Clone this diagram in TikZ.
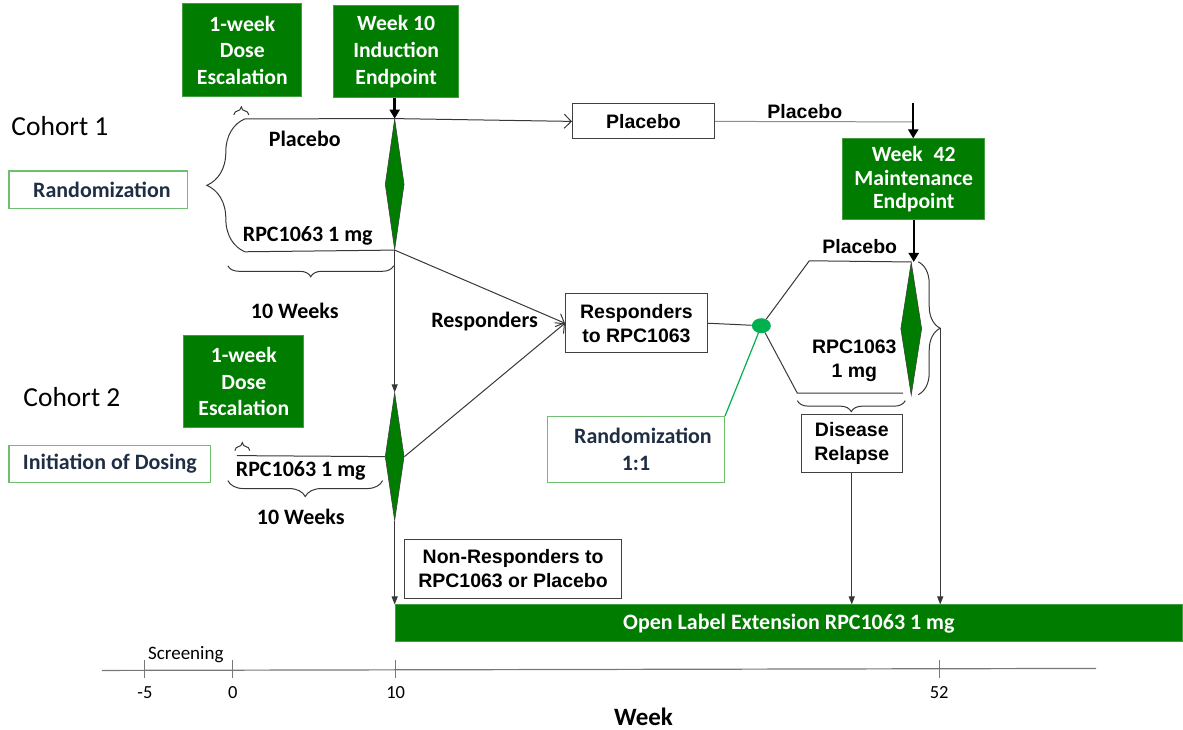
\documentclass[tikz,border=0pt]{standalone}
\usepackage{fontspec}
\setmainfont{Carlito}
\newfontfamily\arialfam{Liberation Sans}
\usetikzlibrary{arrows.meta,decorations.pathreplacing,shapes.geometric}
\definecolor{ptgreen}{RGB}{0,125,0}
\definecolor{boxgreen}{RGB}{112,190,112}
\definecolor{dotgreen}{RGB}{0,176,80}
\definecolor{navytext}{RGB}{32,46,68}
\definecolor{linegray}{RGB}{55,55,55}
\definecolor{axisgray}{RGB}{120,120,120}
\begin{document}
\begin{tikzpicture}[x=1pt,y=-1pt,
  greenbox/.style={rectangle,fill=ptgreen,draw=ptgreen!75!white,line width=1pt,
                   text=white,align=center,inner sep=0pt,
                   font=\bfseries\fontsize{21.7}{26.5}\selectfont},
  outlinebox/.style={rectangle,draw=boxgreen,line width=1.3pt,text=navytext,
                     align=center,inner sep=0pt,
                     font=\bfseries\fontsize{22}{27}\selectfont},
  plainbox/.style={rectangle,draw=black!75,line width=1.1pt,align=center,
                   inner sep=0pt,font=\arialfam\bfseries\fontsize{19.5}{24}\selectfont},
  visitdiamond/.style={diamond,fill=ptgreen,draw=black!75,line width=0.6pt,
                       inner sep=0pt,minimum width=19pt,minimum height=#1},
  armlabel/.style={inner sep=0pt,font=\bfseries\fontsize{22}{26}\selectfont},
  arlabel/.style={inner sep=0pt,align=center,
                  font=\arialfam\bfseries\fontsize{19.5}{24}\selectfont},
  cohortlabel/.style={inner sep=0pt,font=\fontsize{27.5}{32}\selectfont},
  ticklabel/.style={inner sep=0pt,font=\fontsize{18.5}{22}\selectfont},
  flow/.style={draw=linegray,line width=1pt},
  openarrow/.style={-{Straight Barb[length=7pt,width=14pt]}},
  tiparrow/.style={-{Triangle[length=8pt,width=6pt]}},
  thickarrow/.style={draw=black,line width=2.4pt,-{Triangle[length=9pt,width=10pt]}},
  bracedeco/.style={draw=linegray,line width=1pt,decorate,
                    decoration={brace,amplitude=#1}}]
\node[greenbox,minimum width=119pt,minimum height=93pt] (dose1) at (242.5,50.5)
  {1-week\\Dose\\Escalation};
\node[greenbox,minimum width=125pt,minimum height=92pt,
      font=\bfseries\fontsize{21.7}{27}\selectfont] (w10) at (396.5,52)
  {Week 10\\Induction\\Endpoint};
\node[greenbox,minimum width=142pt,minimum height=81pt,
      font=\bfseries\fontsize{21.7}{23.5}\selectfont] (w42) at (914.5,179.5)
  {Week\enspace42\\Maintenance\\Endpoint};
\node[greenbox,minimum width=120pt,minimum height=92pt] (dose2) at (244,382)
  {1-week\\Dose\\Escalation};
\node[greenbox,anchor=west,minimum width=788pt,minimum height=37pt,
      font=\bfseries\fontsize{22}{26}\selectfont] (ole) at (395,624)
  {Open Label Extension RPC1063 1 mg};
\node[cohortlabel] (coh1) at (60,126) {Cohort 1};
\node[cohortlabel] (coh2) at (72,397) {Cohort 2};
\node[outlinebox,minimum width=179pt,minimum height=38pt] (rand1) at (98.5,190)
  {\hspace*{7pt}Randomization};
\node[outlinebox,minimum width=202pt,minimum height=37pt] (init) at (110,464.5)
  {Initiation of Dosing};
\node[outlinebox,minimum width=177pt,minimum height=66pt] (rand2) at (636.5,450)
  {\hspace*{14pt}Randomization\\1:1};
\node[plainbox,minimum width=142pt,minimum height=35pt] (pbox) at (644,121.5) {Placebo};
\node[plainbox,minimum width=142pt,minimum height=59pt] (resp) at (637,323.5)
  {Responders\\to RPC1063};
\node[plainbox,minimum width=101pt,minimum height=58pt] (dis) at (852.5,444)
  {Disease\\Relapse};
\node[plainbox,minimum width=217pt,minimum height=59pt] (nonresp) at (513.5,569.5)
  {Non-Responders to\\RPC1063 or Placebo};
\node[visitdiamond=131pt] (dia1) at (395,184.5) {};
\node[visitdiamond=128pt] (dia2) at (395,457) {};
\node[visitdiamond=133pt,minimum width=21pt] (dia3) at (912,329) {};
\node[ellipse,fill=dotgreen,inner sep=0pt,minimum width=19pt,minimum height=15pt]
  (dot) at (762,326) {};
\node[armlabel] (plac1) at (305,139) {Placebo};
\node[armlabel] (rpc1) at (308,236.5) {RPC1063 1 mg};
\node[armlabel] (wk1) at (295,311) {10 Weeks};
\node[armlabel] (rpc2) at (301,471.5) {RPC1063 1 mg};
\node[armlabel] (wk2) at (301,517) {10 Weeks};
\node[armlabel] (resplbl) at (485,322) {Responders};
\node[arlabel] (plac2) at (805.5,112) {Placebo};
\node[arlabel] (plac3) at (860.5,246.5) {Placebo};
\node[arlabel] (rpc3) at (855,361) {RPC1063\\1 mg};
\coordinate (c1top) at (245,119);
\coordinate (c1bot) at (245,252);
\coordinate (c2start) at (237,456);
\coordinate (p42) at (914,122);
\coordinate (top42) at (914,103);
\coordinate (upk) at (810,261);
\coordinate (lowk) at (798,393.5);
\coordinate (lowend) at (904,393.5);
\coordinate (brtip) at (941,328.5);
\draw[bracedeco=38] (c1bot) -- (c1top);
\draw[bracedeco=8] (234,115) -- (249,115);
\draw[bracedeco=8] (235,451) -- (250,451);
\draw[bracedeco=11] (394,266) -- (228,266);
\draw[bracedeco=16] (383,481) -- (228,481);
\draw[bracedeco=22] (919,262) -- (919,395);
\draw[bracedeco=11] (906,401) -- (798,401);
\draw[flow] (c1top) -- (dia1.north);
\draw[flow] (c1bot) -- (dia1.south);
\draw[flow] (c2start) -- (dia2.west);
\draw[flow,openarrow] (dia1.north) -- (pbox.west);
\draw[draw=black!45,line width=1pt] (pbox.east) -- (p42);
\draw[thickarrow] (dia1.north |- w10.south) -- (dia1.north);
\draw[thickarrow] (top42) -- (top42 |- w42.north);
\draw[thickarrow] (w42.south) -- (w42.south |- dia3.north);
\draw[flow,openarrow] (dia1.south) -- (resp.west);
\draw[flow,openarrow] (dia2.east) -- (resp.west);
\draw[flow,tiparrow] (dia1.south) -- (dia2.north);
\draw[flow,tiparrow] (dia2.south) -- (dia2.south |- ole.north);
\draw[flow] (resp.east) -- (dot);
\draw[flow] (dot) -- (upk) -- (dia3.north);
\draw[flow] (dot) -- (lowk) -- (lowend);
\draw[dotgreen,line width=1.2pt] (rand2.north east) -- (dot);
\draw[flow,tiparrow] (dis.south) -- (dis.south |- ole.north);
\draw[flow,tiparrow] (brtip) -- (brtip |- ole.north);
\draw[axisgray,line width=1.2pt] (102,671) -- (1097,669);
\foreach \tx/\tl [count=\ti] in {145/-5,233/0,396/10,940/52}{
  \draw[axisgray,line width=1pt] (\tx,661) -- (\tx,679);
  \node[ticklabel] (tick\ti) at (\tx,693.5) {\tl};
}
\node[ticklabel,font=\fontsize{19}{22}\selectfont] (scr) at (186,655) {Screening};
\node[inner sep=0pt,font=\bfseries\fontsize{25}{30}\selectfont] (axtitle) at (644,717) {Week};
\path[use as bounding box] (0,0) rectangle (1183,730);
\end{tikzpicture}
\end{document}
